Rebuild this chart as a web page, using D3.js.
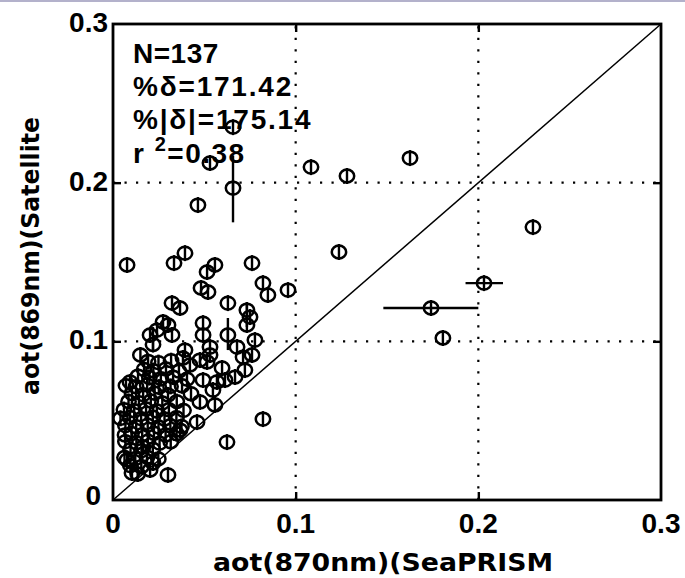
<!DOCTYPE html>
<html>
<head>
<meta charset="utf-8">
<script src="https://cdn.jsdelivr.net/npm/d3@7/dist/d3.min.js"></script>
<style>
  html, body { margin: 0; padding: 0; background: #fff; }
  svg { display: block; }
</style>
</head>
<body>
<svg id="chart" width="685" height="578"></svg>
<script>
// SeaPRISM aerosol optical thickness (870 nm) vs satellite retrieval (869 nm)
const seaprism = [
  0.0657,0.0531,0.0657,0.0465,0.1084,0.1281,0.1626,0.2299,0.1237,0.0958,
  0.2031,0.1741,0.1806,0.0821,0.0624,0.0301,0.0077,0.0394,0.0334,0.0558,
  0.0515,0.0761,0.0821,0.0848,0.0482,0.0520,0.0629,0.0323,0.0367,0.0733,
  0.0750,0.0733,0.0274,0.0301,0.0241,0.0323,0.0203,0.0493,0.0493,0.0629,
  0.0531,0.0777,0.0394,0.0383,0.0476,0.0531,0.0679,0.0712,0.0761,0.0219,
  0.0722,0.0668,0.0613,0.0547,0.0558,0.0476,0.0460,0.0367,0.0421,0.0515,
  0.0493,0.0569,0.0093,0.0137,0.0066,0.0077,0.0104,0.0219,0.0164,0.0597,
  0.0192,0.0249,0.0318,
  0.0170,0.0221,0.0290,0.0361,
  0.0199,0.0262,0.0329,0.0405,
  0.0071,0.0126,0.0187,0.0251,0.0378,0.0315,
  0.0104,0.0165,0.0228,0.0301,0.0427,
  0.0085,0.0142,0.0207,0.0270,0.0349,
  0.0060,0.0116,0.0181,0.0240,0.0306,0.0386,
  0.0093,0.0154,0.0218,0.0282,0.0347,0.0041,
  0.0068,0.0127,0.0190,0.0249,0.0314,0.0375,
  0.0101,0.0160,0.0224,0.0288,0.0348,
  0.0068,0.0128,0.0191,0.0255,0.0316,
  0.0096,0.0156,0.0218,
  0.0063,0.0122,0.0186,0.0248,
  0.0095,0.0155,
  0.0135,
  0.0203,0.0150
];
const satellite = [
  0.2350,0.2124,0.1966,0.1859,0.2098,0.2042,0.2155,0.1720,0.1563,0.1323,
  0.1367,0.1210,0.1021,0.0510,0.0365,0.0158,0.1481,0.1556,0.1493,0.1481,
  0.1437,0.1493,0.1367,0.1292,0.1336,0.1311,0.1241,0.1241,0.1210,0.1197,
  0.1153,0.1103,0.1122,0.1103,0.1071,0.1040,0.1040,0.1115,0.1040,0.1040,
  0.0964,0.1008,0.0945,0.0895,0.0882,0.0914,0.0964,0.0901,0.0914,0.0980,
  0.0819,0.0775,0.0756,0.0693,0.0599,0.0618,0.0491,0.0441,0.0851,0.0870,
  0.0756,0.0744,0.0744,0.0781,0.0410,0.0252,0.0170,0.0233,0.0334,0.0832,
  0.0874,0.0866,0.0878,
  0.0823,0.0815,0.0826,0.0812,
  0.0772,0.0765,0.0775,0.0762,
  0.0721,0.0714,0.0725,0.0711,0.0720,0.0716,
  0.0671,0.0664,0.0673,0.0662,0.0670,
  0.0621,0.0614,0.0624,0.0612,0.0620,
  0.0570,0.0563,0.0574,0.0561,0.0569,0.0565,
  0.0520,0.0513,0.0522,0.0511,0.0519,0.0515,
  0.0469,0.0462,0.0472,0.0460,0.0468,0.0464,
  0.0419,0.0412,0.0421,0.0410,0.0418,
  0.0368,0.0361,0.0371,0.0359,0.0367,
  0.0318,0.0311,0.0320,
  0.0268,0.0261,0.0270,0.0259,
  0.0217,0.0210,
  0.0164,
  0.0189,0.0914
];

// Wide error bars: [seaprism, satellite, low, high]
const seaprismRange = [
  [0.1741, 0.1210, 0.148, 0.200],
  [0.2031, 0.1367, 0.193, 0.2135]
];
const satelliteRange = [
  [0.0657, 0.1966, 0.175, 0.217],
  [0.0629, 0.1040, 0.0945, 0.1147],
  [0.0733, 0.1103, 0.109, 0.1248],
  [0.0219, 0.0980, 0.0945, 0.109]
];

const tickValues = [0, 0.1, 0.2, 0.3];
const tickLabels = ["0", "0.1", "0.2", "0.3"];
const statLines = ["N=137", "%\u03b4=171.42", "%|\u03b4|=175.14"];
const rSquared = "0.38";
const xTitle = "aot(870nm)(SeaPRISM";
const yTitle = "aot(869nm)(Satellite";

const svg = d3.select("#chart");
const L = 113, R = 661, T = 24, B = 500;
const x = d3.scaleLinear().domain([0, 0.3]).range([L, R]);
const y = d3.scaleLinear().domain([0, 0.3]).range([B, T]);

// thin band along the top edge of the page
svg.append("rect").attr("x", 0).attr("y", 0).attr("width", 685).attr("height", 2)
  .attr("fill", "#b3b1cb");

const defs = svg.append("defs");
defs.append("clipPath").attr("id", "plotClip")
  .append("rect").attr("x", L).attr("y", T).attr("width", R - L).attr("height", B - T);

// dotted grid
const grid = svg.append("g").attr("stroke", "#000").attr("stroke-width", 2.2)
  .attr("stroke-dasharray", "2.2,9.3");
[0.1, 0.2].forEach(v => {
  grid.append("line").attr("x1", x(v)).attr("x2", x(v)).attr("y1", B).attr("y2", T);
  grid.append("line").attr("x1", L).attr("x2", R).attr("y1", y(v)).attr("y2", y(v));
});

// 1:1 line
svg.append("line")
  .attr("x1", x(0)).attr("y1", y(0)).attr("x2", x(0.3)).attr("y2", y(0.3))
  .attr("stroke", "#000").attr("stroke-width", 1.5);

// axes with inward ticks on all four sides
const axisStyle = g => {
  g.select(".domain").remove();
  g.selectAll(".tick text").remove();
  g.selectAll(".tick line").attr("stroke", "#000").attr("stroke-width", 2.4);
};
const inner = [0.1, 0.2];
svg.append("g").attr("transform", `translate(0,${B})`)
  .call(d3.axisBottom(x).tickValues(inner).tickSizeInner(-8)).call(axisStyle);
svg.append("g").attr("transform", `translate(0,${T})`)
  .call(d3.axisTop(x).tickValues(inner).tickSizeInner(-8)).call(axisStyle);
svg.append("g").attr("transform", `translate(${L},0)`)
  .call(d3.axisLeft(y).tickValues(inner).tickSizeInner(-8)).call(axisStyle);
svg.append("g").attr("transform", `translate(${R},0)`)
  .call(d3.axisRight(y).tickValues(inner).tickSizeInner(-8)).call(axisStyle);

// frame
svg.append("rect").attr("x", L).attr("y", T).attr("width", R - L).attr("height", B - T)
  .attr("fill", "none").attr("stroke", "#000").attr("stroke-width", 2.8);

// tick labels
const tickFont = "'Liberation Sans', Arial, sans-serif";
svg.append("g").selectAll("text").data(tickValues).join("text")
  .attr("x", d => x(d)).attr("y", 533)
  .attr("text-anchor", "middle")
  .attr("font-family", tickFont).attr("font-weight", "bold").attr("font-size", 28)
  .text((d, i) => tickLabels[i]);
svg.append("g").selectAll("text").data(tickValues).join("text")
  .attr("x", d => d === 0 ? 101 : 108).attr("y", d => y(d) + (d === 0 ? 5 : 8))
  .attr("text-anchor", "end")
  .attr("font-family", tickFont).attr("font-weight", "bold").attr("font-size", 28)
  .text((d, i) => tickLabels[i]);

// axis titles
const titleFont = "'DejaVu Sans', sans-serif";
svg.append("text")
  .attr("x", 213).attr("y", 571)
  .attr("textLength", 340).attr("lengthAdjust", "spacingAndGlyphs")
  .attr("font-family", titleFont).attr("font-weight", "bold").attr("font-size", 24)
  .text(xTitle);
svg.append("text")
  .attr("transform", "translate(39,395) rotate(-90)")
  .attr("textLength", 278).attr("lengthAdjust", "spacingAndGlyphs")
  .attr("font-family", titleFont).attr("font-weight", "bold").attr("font-size", 25)
  .text(yTitle);

// error bars
const bars = svg.append("g").attr("clip-path", "url(#plotClip)")
  .attr("stroke", "#000").attr("stroke-width", 2.4);
bars.selectAll("line.h").data(seaprismRange).join("line").attr("class", "h")
  .attr("x1", d => x(d[2])).attr("x2", d => x(d[3]))
  .attr("y1", d => y(d[1])).attr("y2", d => y(d[1]));
bars.selectAll("line.v").data(satelliteRange).join("line").attr("class", "v")
  .attr("x1", d => x(d[0])).attr("x2", d => x(d[0]))
  .attr("y1", d => y(d[2])).attr("y2", d => y(d[3]));

// point markers: open circle with a short vertical bar
const points = seaprism.map((v, i) => [v, satellite[i]]);
const mk = svg.append("g").attr("clip-path", "url(#plotClip)");
const g = mk.selectAll("g").data(points).join("g")
  .attr("transform", d => `translate(${x(d[0])},${y(d[1])})`);
g.append("ellipse").attr("rx", 7.2).attr("ry", 6.4)
  .attr("fill", "none").attr("stroke", "#000").attr("stroke-width", 2.5);
g.append("line").attr("x1", 0).attr("x2", 0).attr("y1", -8).attr("y2", 8)
  .attr("stroke", "#000").attr("stroke-width", 2.4);

// statistics
const stats = svg.append("g")
  .attr("font-family", tickFont).attr("font-weight", "bold").attr("font-size", 28)
  .attr("fill", "#000");
const baselines = [63, 96, 129];
statLines.forEach((s, i) => {
  stats.append("text").attr("x", 133).attr("y", baselines[i])
    .attr("letter-spacing", i === 0 ? 0.5 : 1.8).text(s);
});
const r2 = stats.append("text").attr("x", 133).attr("y", 163).attr("letter-spacing", 1.5);
r2.append("tspan").text("r ");
r2.append("tspan").attr("font-size", 20).attr("dy", -12).text("2");
r2.append("tspan").attr("dy", 12).text("=" + rSquared);
</script>
</body>
</html>
